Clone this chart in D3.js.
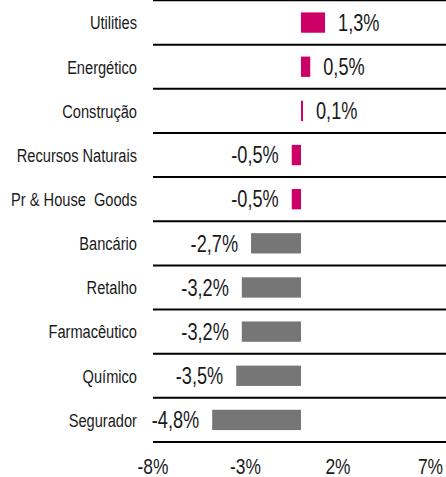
<!DOCTYPE html>
<html>
<head>
<meta charset="utf-8">
<script src="https://cdn.jsdelivr.net/npm/d3@7"></script>
<style>
  body { margin: 0; background: #fff; }
  text { font-family: "Liberation Sans", Arial, sans-serif; fill: #1a1a1a; }
</style>
</head>
<body>
<div id="chart"></div>
<script>
const categories = ["Utilities", "Energético", "Construção", "Recursos Naturais", "Pr & House  Goods",
                    "Bancário", "Retalho", "Farmacêutico", "Químico", "Segurador"];
const values = [1.3, 0.5, 0.1, -0.5, -0.5, -2.7, -3.2, -3.2, -3.5, -4.8];
const valueLabels = ["1,3%", "0,5%", "0,1%", "-0,5%", "-0,5%", "-2,7%", "-3,2%", "-3,2%", "-3,5%", "-4,8%"];
const tickValues = [-8, -3, 2, 7];
const tickLabels = ["-8%", "-3%", "2%", "7%"];
// first five are highlighted in pink, the rest grey
const highlighted = [true, true, true, true, true, false, false, false, false, false];

const width = 446;
const height = 477;
const pink = "#cc0066";
const grey = "#767676";

const svg = d3.select("#chart")
              .append("svg")
              .attr("width", width)
              .attr("height", height);

let xScale = d3.scaleLinear().domain([-8, 8]).range([153, 449]);
let rows = d3.scaleBand().domain(categories).range([0.5, 442]).padding(0);
let yScale = d3.scaleBand().domain(categories).range([0.5, 442])
               .paddingInner(0.54).paddingOuter(0.27);

// no narrow font installed, so squeeze the text horizontally
function narrow(x, y, sx) {
  return "translate(" + x + "," + y + ") scale(" + sx + ",1)";
}

// separator lines
svg.append("g")
  .selectAll("line")
  .data(categories)
  .join("line")
    .attr("x1", xScale(-8))
    .attr("x2", width)
    .attr("y1", d => rows(d) + rows.bandwidth())
    .attr("y2", d => rows(d) + rows.bandwidth())
    .attr("stroke", "#000")
    .attr("stroke-width", 2);

svg.append("line")
    .attr("x1", xScale(-8)).attr("x2", width)
    .attr("y1", 0.5).attr("y2", 0.5)
    .attr("stroke", "#000").attr("stroke-width", 1.5);

// bars
svg.append("g")
  .selectAll("rect")
  .data(values)
  .join("rect")
    .attr("x", d => xScale(Math.min(0, d)))
    .attr("y", (d, i) => yScale(categories[i]))
    .attr("width", d => Math.max(2, Math.abs(xScale(d) - xScale(0))))
    .attr("height", yScale.bandwidth())
    .attr("fill", (d, i) => highlighted[i] ? pink : grey);

// value labels
svg.append("g")
  .selectAll("text")
  .data(values)
  .join("text")
    .attr("transform", (d, i) => narrow(
        d >= 0 ? Math.max(xScale(d), xScale(0) + 2) + 13 : xScale(d) - 13,
        yScale(categories[i]) + yScale.bandwidth() / 2, 0.79))
    .attr("dy", "0.36em")
    .attr("text-anchor", d => d >= 0 ? "start" : "end")
    .attr("font-size", 23)
    .text((d, i) => valueLabels[i]);

// category labels
svg.append("g")
  .selectAll("text")
  .data(categories)
  .join("text")
    .attr("transform", d => narrow(137, rows(d) + rows.bandwidth() / 2, 0.77))
    .attr("dy", "0.36em")
    .attr("text-anchor", "end")
    .attr("font-size", 19)
    .style("white-space", "pre")
    .text(d => d);

// x axis tick labels
svg.append("g")
  .selectAll("text")
  .data(tickValues)
  .join("text")
    .attr("transform", d => narrow(xScale(d), 474, 0.79))
    .attr("text-anchor", "middle")
    .attr("font-size", 22)
    .text((d, i) => tickLabels[i]);
</script>
</body>
</html>
